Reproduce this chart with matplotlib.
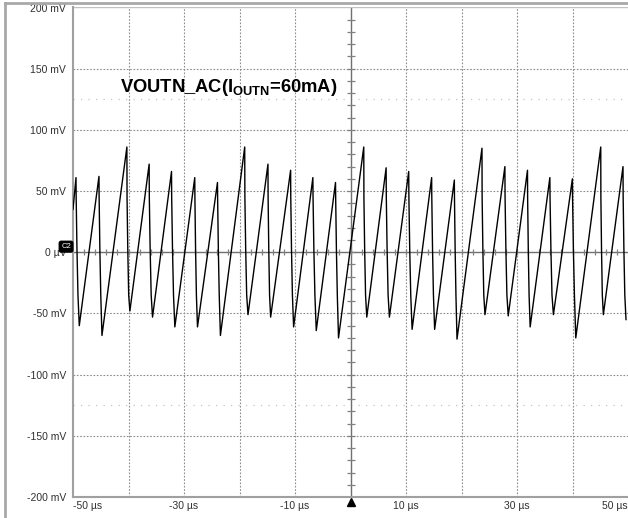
import matplotlib
matplotlib.use("Agg")
import matplotlib.pyplot as plt
import matplotlib.transforms as mtransforms
import numpy as np
from matplotlib.lines import Line2D

plt.rcParams['font.family'] = ['Liberation Sans', 'DejaVu Sans']
plt.rcParams['mathtext.fontset'] = 'custom'
plt.rcParams['mathtext.bf'] = 'Liberation Sans:bold'
plt.rcParams['mathtext.rm'] = 'Liberation Sans'

# ripple waveform (time in us, voltage in mV)
start_t, start_v = -50.0, 35
peak_t = [-49.46, -45.32, -40.29, -36.28, -32.25, -28.06, -23.97, -19.06,
          -14.87, -10.79, -6.78, -2.70, 2.39, 6.42, 10.49, 14.62,
          18.71, 23.69, 27.82, 31.89, 35.92, 39.98, 45.09, 49.10]
peak_v = [61, 62, 86, 72, 66, 61, 57, 86,
          72, 67, 61, 57, 86, 69, 66, 61,
          59, 85, 70, 67, 61, 60, 86, 70]
trough_t = [-48.87, -44.78, -39.75, -35.67, -31.65, -27.57, -23.44, -18.47,
            -14.39, -10.25, -6.17, -2.16, 2.93, 7.01, 11.10, 15.16,
            19.19, 24.23, 28.42, 32.37, 36.56, 40.59, 45.56, 49.64]
trough_v = [-60, -68, -48, -53, -61, -61, -68, -51,
            -53, -61, -64, -70, -53, -53, -63, -63,
            -71, -51, -52, -61, -51, -70, -51, -55]
# steps seen on each falling edge: (fraction of fall time, level in mV)
fall_steps = [(0.05, 45), (0.3, 2), (0.6, -35)]

y_ticks = [200, 150, 100, 50, 0, -50, -100, -150, -200]
y_labels = ['200 mV', '150 mV', '100 mV', '50 mV', '0 \u00b5V',
            '-50 mV', '-100 mV', '-150 mV', '-200 mV']
x_ticks = [-50, -30, -10, 10, 30, 50]
x_labels = ['-50 \u00b5s', '-30 \u00b5s', '-10 \u00b5s', '10 \u00b5s', '30 \u00b5s', '50 \u00b5s']

# build the trace
t = [start_t]
v = [start_v]
for tp, vp, tt, vt in zip(peak_t, peak_v, trough_t, trough_v):
    t.append(tp)
    v.append(vp)
    for frac, lvl in fall_steps:
        t.append(tp + frac * (tt - tp))
        v.append(lvl)
    t.append(tt)
    v.append(vt)

W, H = 628, 518
fig = plt.figure(figsize=(W / 100, H / 100), dpi=100)
ax = fig.add_axes([73 / W, 21 / H, (W - 73) / W, 489.5 / H])
ax.set_xlim(-50, 50)
ax.set_ylim(-200, 200)

grid_col = '#8c8c8c'
for yv in [-150, -100, -50, 50, 100, 150]:
    ax.axhline(yv, color=grid_col, lw=0.8, ls=(0, (1.5, 1.5)), zorder=1)
for xv in [-40, -30, -20, -10, 10, 20, 30, 40]:
    ax.axvline(xv, color=grid_col, lw=0.8, ls=(0, (1.5, 1.5)), zorder=1)
for yv in [-125, 125]:
    ax.axhline(yv, color='#c4c4c4', lw=0.9, ls=(0, (1, 5)), zorder=1)

# centre cross with small division marks
ax.axhline(0, color='#707070', lw=1.0, zorder=1)
ax.axvline(0, color='#707070', lw=1.0, zorder=1)
ax.plot(np.zeros(39), np.arange(-190, 200, 10), ls='none', marker='_',
        ms=6, mew=0.9, color='#808080', zorder=1)
ax.plot(np.arange(-48, 50, 2), np.zeros(49), ls='none', marker='|',
        ms=5, mew=0.9, color='#808080', zorder=1)

ax.plot(t, v, color='black', lw=1.0, zorder=3)

for side in ['top', 'right']:
    ax.spines[side].set_visible(False)
for side in ['left', 'bottom']:
    ax.spines[side].set_color('#a0a0a0')
    ax.spines[side].set_linewidth(1.5)
ax.axhline(200, color='#c0c0c0', lw=1.0, zorder=1)

ax.set_yticks(y_ticks)
ax.set_yticklabels(y_labels)
ax.set_xticks(x_ticks)
ax.set_xticklabels(x_labels)
ax.tick_params(length=0, labelsize=7.5, labelcolor='#303030')
ax.tick_params(axis='y', pad=5)
ax.tick_params(axis='x', pad=3)
xl = ax.get_xticklabels()
xl[0].set_horizontalalignment('left')
xl[-1].set_horizontalalignment('right')

ax.text(-41.5, 131, 'VOUTN_AC(I$_{\\mathbf{OUTN}}$=60mA)', fontsize=13.2,
        fontweight='bold', ha='left', va='baseline', zorder=4)

# channel marker and trigger arrow
ax.annotate('C2', xy=(0, 0), xycoords=('axes fraction', 'data'),
            xytext=(-5, 4), textcoords='offset points', fontsize=5.5,
            color='white', ha='center', va='center', annotation_clip=False,
            bbox=dict(boxstyle='round,pad=0.25', fc='black', ec='black'), zorder=5)
trig = mtransforms.offset_copy(ax.transData, fig=fig, x=0, y=-5, units='dots')
ax.plot([0], [-200], marker='^', ms=5.5, color='black', clip_on=False,
        transform=trig, zorder=5, ls='none')

# outer frame
fig.add_artist(Line2D([5 / W, 5 / W], [0, 1 - 3 / H], color='#a8a8a8', lw=2))
fig.add_artist(Line2D([5 / W, 1], [1 - 3 / H, 1 - 3 / H], color='#a8a8a8', lw=2))

fig.savefig('out.png', dpi=100)
